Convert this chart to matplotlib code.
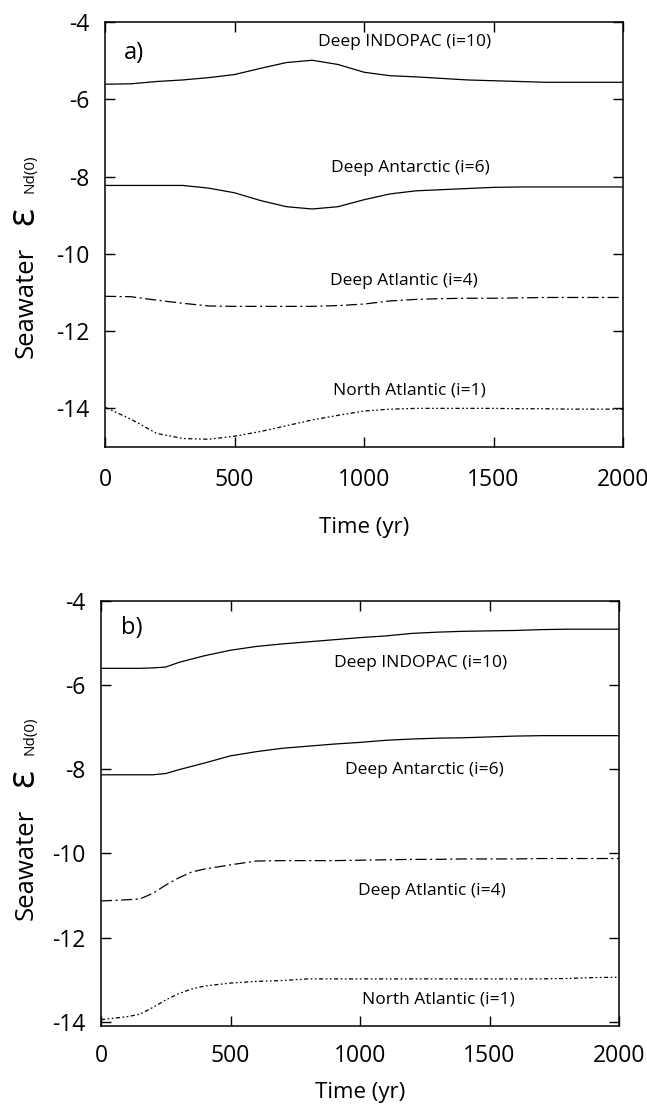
import matplotlib
matplotlib.use("Agg")
import matplotlib.pyplot as plt

plt.rcParams['font.family'] = ['Open Sans', 'DejaVu Sans']
plt.rcParams['lines.scale_dashes'] = False

# ---------------- data: panel a ----------------
t_a = [0, 100, 200, 300, 400, 500, 600, 700, 800, 900, 1000,
       1100, 1200, 1300, 1400, 1500, 1600, 1700, 1800, 1900, 2000]
indopac_a = [-5.61, -5.60, -5.54, -5.50, -5.44, -5.36, -5.20, -5.05, -4.99, -5.10, -5.30,
             -5.39, -5.42, -5.46, -5.50, -5.52, -5.54, -5.56, -5.56, -5.56, -5.56]
antarctic_a = [-8.23, -8.23, -8.23, -8.23, -8.30, -8.42, -8.62, -8.78, -8.84, -8.78, -8.60,
               -8.45, -8.37, -8.34, -8.31, -8.28, -8.27, -8.27, -8.27, -8.27, -8.27]
deepatl_a = [-11.10, -11.11, -11.20, -11.28, -11.35, -11.36, -11.36, -11.36, -11.36, -11.34, -11.30,
             -11.22, -11.18, -11.16, -11.15, -11.15, -11.14, -11.13, -11.13, -11.13, -11.13]
northatl_a = [-13.97, -14.28, -14.65, -14.78, -14.80, -14.72, -14.60, -14.45, -14.30, -14.18, -14.07,
              -14.02, -14.00, -14.00, -14.00, -14.00, -14.01, -14.01, -14.02, -14.02, -14.02]

# ---------------- data: panel b ----------------
t_b = [0, 100, 150, 200, 250, 300, 350, 400, 500, 600, 700, 800, 900, 1000,
       1100, 1200, 1300, 1400, 1500, 1600, 1700, 1800, 1900, 2000]
indopac_b = [-5.60, -5.60, -5.60, -5.59, -5.57, -5.46, -5.38, -5.30, -5.17, -5.08, -5.02, -4.97, -4.92, -4.87,
             -4.83, -4.77, -4.74, -4.72, -4.71, -4.70, -4.68, -4.67, -4.67, -4.67]
antarctic_b = [-8.13, -8.13, -8.13, -8.13, -8.10, -8.01, -7.93, -7.85, -7.68, -7.58, -7.50, -7.45, -7.40, -7.36,
               -7.31, -7.28, -7.26, -7.25, -7.23, -7.21, -7.20, -7.20, -7.20, -7.20]
deepatl_b = [-11.13, -11.10, -11.08, -10.95, -10.75, -10.58, -10.44, -10.37, -10.27, -10.18, -10.17, -10.17, -10.17, -10.16,
             -10.15, -10.14, -10.14, -10.13, -10.13, -10.13, -10.12, -10.12, -10.12, -10.12]
northatl_b = [-13.95, -13.88, -13.82, -13.66, -13.48, -13.33, -13.22, -13.15, -13.08, -13.04, -13.02, -12.98, -12.98, -12.98,
              -12.98, -12.98, -12.98, -12.98, -12.98, -12.98, -12.98, -12.97, -12.95, -12.94]

labels = ["Deep INDOPAC (i=10)", "Deep Antarctic (i=6)", "Deep Atlantic (i=4)", "North Atlantic (i=1)"]
xticks = [0, 500, 1000, 1500, 2000]
yticks = [-14, -12, -10, -8, -6, -4]

W, H = 647, 1108
fig = plt.figure(figsize=(W / 100, H / 100), dpi=100)

def px_axes(l, t, r, b):
    return fig.add_axes([l / W, 1 - b / H, (r - l) / W, (b - t) / H])

ax_a = px_axes(105, 22, 623, 447)
ax_b = px_axes(101, 601, 619, 1026)

styles = [dict(ls='-'), dict(ls='-'),
          dict(ls=(0, (8, 2.5, 1.5, 2.5))),
          dict(ls=(0, (3, 1.8, 1.2, 1.8, 1.2, 1.8)))]

def style_axes(ax, ylim, xpad, labelpad):
    ax.set_xlim(0, 2000)
    ax.set_ylim(*ylim)
    ax.set_xticks(xticks)
    ax.set_yticks(yticks)
    ax.set_yticklabels([str(v) for v in yticks])
    ax.tick_params(direction='in', length=7, width=1.0, top=True, right=True,
                   labelsize=16.5, colors='black')
    ax.tick_params(axis='x', pad=xpad)
    ax.tick_params(axis='y', pad=11)
    for s in ax.spines.values():
        s.set_linewidth(1.1)
    ax.set_xlabel("Time (yr)", fontsize=16, labelpad=labelpad)

for ax, t, series in [(ax_a, t_a, [indopac_a, antarctic_a, deepatl_a, northatl_a]),
                      (ax_b, t_b, [indopac_b, antarctic_b, deepatl_b, northatl_b])]:
    for vals, st in zip(series, styles):
        ax.plot(t, vals, color='black', lw=0.9, **st)

style_axes(ax_a, (-15, -4), xpad=15, labelpad=18)
style_axes(ax_b, (-14.1, -4), xpad=13, labelpad=10)

# annotations
ann_a = [(1158, -4.51), (1178, -7.77), (1154, -10.71), (1175, -13.53)]
for lab, (x, y) in zip(labels, ann_a):
    ax_a.text(x, y, lab, fontsize=12.5, ha='center', va='center')
ann_b = [(1234, -5.48), (1250, -8.01), (1279, -10.9), (1303, -13.46)]
for lab, (x, y) in zip(labels, ann_b):
    ax_b.text(x, y, lab, fontsize=12.5, ha='center', va='center')

ax_a.text(112, -4.8, "a)", fontsize=17, ha='center', va='center')
ax_b.text(120, -4.64, "b)", fontsize=17, ha='center', va='center')

# y labels (rotated), drawn as figure text
def ylab(sea_y, eps_y, nd_y, xb=33):
    kw = dict(rotation=90, rotation_mode='anchor', ha='center', va='baseline')
    fig.text(xb / W, 1 - sea_y / H, "Seawater", fontsize=18.5, **kw)
    fig.text(xb / W, 1 - eps_y / H, "ε", fontsize=27, **kw)
    fig.text((xb + 1) / W, 1 - nd_y / H, "Nd(0)", fontsize=11, **kw)

ylab(302, 216, 174)
ylab(864, 778, 736)

fig.savefig("out.png", dpi=100)
